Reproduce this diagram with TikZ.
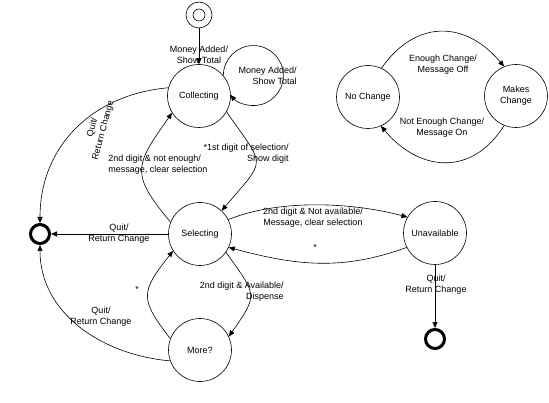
\documentclass[tikz,border=0pt]{standalone}
\usepackage{fontspec}
\setmainfont{Liberation Sans}
\usetikzlibrary{arrows.meta}
\usetikzlibrary{positioning}

\begin{document}
\begin{tikzpicture}[x=1pt,y=1pt,line width=0.6pt,line join=round,
  >={Triangle[length=6pt,width=5pt]},
  every node/.style={font=\fontsize{9}{11}\selectfont},
  stnode/.style={circle,draw,minimum size=63pt,inner sep=0pt,align=center},
  finnode/.style={circle,draw,line width=3pt,minimum size=19pt,inner sep=0pt},
  lbl/.style={align=center,inner sep=1pt}]
\useasboundingbox (0,0) rectangle (549,402);
% states
\node[circle,draw,minimum size=26pt,inner sep=0pt] (init) at (199,387) {};
\node[circle,draw,minimum size=12pt,inner sep=0pt] (initin) at (init) {};
\node[stnode] (col) at (199,306) {Collecting};
\node[stnode] (sel) at (200,168) {Selecting};
\node[stnode] (more) at (200,52) {More?};
\node[stnode] (unav) at (435,169) {Unavailable};
\node[finnode] (finL) at (40,168) {};
\node[finnode] (finB) at (435,63) {};
\node[stnode] (noch) at (368,305) {No Change};
\node[stnode] (makes) at (516,306) {Makes\\Change};
% transitions
\draw[->] (init) -- (col);
\node[lbl] (lmoney) at (199,347) {Money Added/\\Show Total};
\draw[->] (col.40) arc[start angle=180,end angle=-140,radius=30];
\node[lbl,align=right,anchor=east] (lloop) at (298,326.5) {Money Added/\\Show Total};
\draw[->] (col.165) to[out=185,in=90,looseness=1.05] (finL.north);
\node[lbl,rotate=75] (lquit1) at (98,273) {Quit/\\Return Change};
\draw[->] (sel.158) to[out=130,in=235,looseness=1.5] (col.212);
\node[lbl,align=left,anchor=west] (lnoten) at (107,237.5) {2nd digit \& not enough/\\message, clear selection};
\draw[->] (col.-30) to[out=-55,in=50,looseness=1.8] (sel.47);
\node[lbl,align=right,anchor=east] (lfirst) at (290,248.5) {*1st digit of selection/\\Show digit};
\draw[->] (sel.west) -- (finL.east);
\node[lbl] (lquit2) at (119,168) {Quit/\\Return Change};
\draw[->] (sel.27) to[out=22,in=165,looseness=0.8] (unav.150);
\node[lbl] (lnotav) at (313,184) {2nd digit \& Not available/\\Message, clear selection};
\draw[->] (unav.207) to[out=200,in=-15] (sel.-25);
\node[lbl] (lstar1) at (315,155) {*};
\draw[->] (more.159) to[out=128,in=232,looseness=1.5] (sel.212);
\node[lbl] (lstar2) at (137,113) {*};
\draw[->] (sel.-35) to[out=-55,in=55,looseness=1.6] (more.25);
\node[lbl,align=right,anchor=east] (lavail) at (285,110) {2nd digit \& Available/\\Dispense};
\draw[->] (more.200) to[out=175,in=-90] (finL.south);
\node[lbl] (lquit3) at (101,85) {Quit/\\Return Change};
\draw[->] (unav) -- (finB);
\node[lbl] (lquit4) at (436,117) {Quit/\\Return Change};
\draw[->] (noch.65) to[out=55,in=130,looseness=1.25] (makes.112);
\node[lbl] (lenough) at (443,337.5) {Enough Change/\\Message Off};
\draw[->] (makes.248) to[out=238,in=-50,looseness=1.25] (noch.-66);
\node[lbl] (lnotenough) at (442,274.5) {Not Enough Change/\\Message On};
\end{tikzpicture}
\end{document}
